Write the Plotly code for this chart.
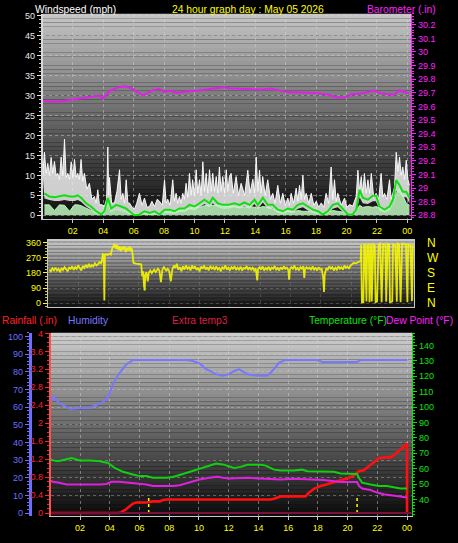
import plotly.graph_objects as go

W, H = 458, 543

# ---------------- data ----------------
hour_ticks = [2, 4, 6, 8, 10, 12, 14, 16, 18, 20, 22, 24]
hour_labels = ['02', '04', '06', '08', '10', '12', '14', '16', '18', '20', '22', '00']

wind_ticks = [0, 5, 10, 15, 20, 25, 30, 35, 40, 45, 50]
baro_ticks = [28.8, 28.9, 29.0, 29.1, 29.2, 29.3, 29.4, 29.5, 29.6, 29.7, 29.8, 29.9, 30.0, 30.1, 30.2]
baro_labels = ['28.8', '28.9', '29', '29.1', '29.2', '29.3', '29.4', '29.5', '29.6', '29.7',
               '29.8', '29.9', '30', '30.1', '30.2']
dir_ticks = [0, 90, 180, 270, 360]
compass_labels = ['N', 'E', 'S', 'W', 'N']
rain_ticks = [0, 0.4, 0.8, 1.2, 1.6, 2.0, 2.4, 2.8, 3.2, 3.6, 4.0]
rain_labels = ['0', '0.4', '0.8', '1.2', '1.6', '2', '2.4', '2.8', '3.2', '3.6', '4']
hum_ticks = [0, 10, 20, 30, 40, 50, 60, 70, 80, 90, 100]
temp_ticks = [40, 50, 60, 70, 80, 90, 100, 110, 120, 130, 140]

# wind: average (green), lower edge of gust band, low speed (pale green)
wind_hours = [0.13, 0.46, 0.79, 1.12, 1.45, 1.78, 2.11, 2.32, 2.54, 2.87, 3.20, 3.53, 3.86, 4.08,
              4.30, 4.52, 4.85, 5.18, 5.50, 5.72, 6.05, 6.38, 6.71, 7.04, 7.37, 7.70, 8.03, 8.36,
              8.68, 9.01, 9.34, 9.67, 10.0, 10.33, 10.66, 10.99, 11.20, 11.53, 11.86, 12.19, 12.63,
              12.96, 13.29, 13.62, 13.95, 14.17, 14.50, 14.82, 15.15, 15.48, 15.81, 16.14, 16.47,
              16.80, 17.13, 17.46, 17.79, 18.11, 18.44, 18.77, 19.10, 19.43, 19.76, 20.09, 20.41,
              20.64, 20.86, 21.07, 21.40, 21.73, 21.95, 22.17, 22.50, 22.83, 23.05, 23.27, 23.49,
              23.70, 23.93, 24.14]
wind_avg = [5.5, 4.7, 4.5, 4.7, 5.0, 4.7, 4.7, 5.0, 4.4, 3.0, 2.2, 1.0, 0.2, 1.0,
            4.3, 1.7, 2.6, 2.2, 1.7, 1.0, 0.0, 0.2, 1.0, 0.6, 1.0, 0.2, 1.4, 1.4,
            1.0, 1.7, 1.7, 2.6, 2.2, 3.0, 3.9, 3.0, 4.4, 3.0, 2.6, 2.6, 3.0,
            2.6, 3.2, 2.6, 3.9, 2.6, 4.4, 2.6, 2.6, 1.4, 1.0, 1.7, 1.4,
            2.6, 3.0, 2.2, 1.4, 1.0, 0.2, 1.0, 2.6, 3.0, 1.7, 0.2, 0.2,
            1.4, 6.4, 4.4, 3.9, 4.9, 4.9, 2.2, 1.4, 2.2, 3.9, 8.8, 7.5,
            5.9, 5.9, 4.4]
wind_floor = [4.2, 3.8, 3.6, 3.6, 3.8, 3.6, 3.6, 3.8, 3.4, 2.2, 1.4, 0.3, 0.0, 0.3,
              2.5, 0.8, 1.5, 1.2, 0.8, 0.3, 0.0, 0.0, 0.3, 0.0, 0.2, 0.0, 0.5, 0.5,
              0.3, 0.8, 0.8, 1.5, 1.2, 2.0, 2.8, 2.0, 3.0, 2.0, 1.6, 1.6, 2.0,
              1.6, 2.2, 1.6, 2.8, 1.6, 3.2, 1.6, 1.6, 0.6, 0.3, 0.8, 0.6,
              1.6, 2.0, 1.2, 0.6, 0.3, 0.0, 0.3, 1.6, 2.0, 0.8, 0.0, 0.0,
              0.5, 4.5, 3.0, 2.8, 3.5, 3.5, 1.2, 0.6, 1.2, 2.8, 6.0, 5.5,
              4.5, 4.5, 3.0]
wind_low = [2.6, 2.6, 1.2, 2.6, 2.5, 1.0, 2.6, 2.6, 2.4, 1.8, 1.0, 0.6, 0.3, 0.5,
            3.5, 0.8, 1.5, 1.2, 0.8, 0.5, 0.3, 0.5, 0.6, 0.5, 0.8, 0.4, 1.0, 1.2,
            0.8, 1.2, 1.5, 1.8, 2.0, 2.0, 2.4, 2.6, 2.5, 2.6, 2.4, 2.2, 2.2,
            2.0, 2.0, 2.2, 2.0, 1.8, 2.2, 2.0, 1.5, 1.0, 1.0, 1.0, 0.8,
            1.2, 1.0, 1.0, 0.8, 0.8, 0.5, 0.8, 1.2, 1.0, 0.8, 0.4, 0.4,
            1.0, 2.5, 2.0, 2.2, 2.0, 2.2, 1.8, 1.5, 2.0, 2.5, 5.5, 6.5,
            5.0, 3.0, 2.5]

gust_hours = [0.02, 0.13, 0.24, 0.35, 0.46, 0.57, 0.68, 0.79, 0.90, 1.01, 1.12, 1.23, 1.34, 1.45,
              1.56, 1.67, 1.78, 1.89, 2.00, 2.11, 2.22, 2.32, 2.43, 2.54, 2.65, 2.76, 2.92, 3.09,
              3.25, 3.42, 3.53, 3.64, 3.75, 3.86, 4.08, 4.22, 4.30, 4.36, 4.41, 4.55, 4.74, 4.90,
              5.07, 5.18, 5.29, 5.40, 5.51, 5.62, 5.72, 5.90, 6.05, 6.20, 6.38, 6.55, 6.71, 6.88,
              7.04, 7.20, 7.37, 7.55, 7.70, 7.88, 8.03, 8.14, 8.24, 8.40, 8.57, 8.68, 8.79, 8.90,
              9.01, 9.12, 9.23, 9.34, 9.45, 9.56, 9.67, 9.78, 9.88, 10.00, 10.11, 10.22, 10.33,
              10.44, 10.55, 10.66, 10.77, 10.88, 10.99, 11.10, 11.20, 11.32, 11.43, 11.54, 11.64,
              11.75, 11.86, 11.98, 12.09, 12.20, 12.30, 12.41, 12.55, 12.74, 12.90, 13.07, 13.30,
              13.51, 13.65, 13.84, 13.95, 14.06, 14.17, 14.28, 14.38, 14.49, 14.65, 14.82, 15.00,
              15.15, 15.30, 15.48, 15.65, 15.81, 15.98, 16.14, 16.25, 16.36, 16.52, 16.69, 16.80,
              16.91, 17.02, 17.13, 17.24, 17.35, 17.52, 17.68, 17.85, 18.01, 18.17, 18.34, 18.50,
              18.66, 18.82, 18.99, 19.10, 19.21, 19.32, 19.43, 19.65, 19.87, 20.03, 20.20, 20.41,
              20.64, 20.75, 20.86, 20.97, 21.07, 21.18, 21.30, 21.41, 21.52, 21.63, 21.79, 21.95,
              22.12, 22.28, 22.39, 22.50, 22.66, 22.83, 22.94, 23.05, 23.16, 23.27, 23.38, 23.49,
              23.60, 23.70, 23.82, 23.93, 24.04, 24.14]
gust_mph = [10, 15.8, 10.5, 13, 10, 14.5, 10.5, 13.5, 10, 10.5, 9, 14.6, 10, 19.1,
            9.5, 10.5, 9, 13.4, 9.5, 14, 9.5, 10.5, 9, 14, 8.5, 10.5, 6.5, 8,
            4, 4.7, 3, 6.4, 2.5, 2.7, 2.3, 4, 17.1, 5, 9.5, 3, 3.1, 6,
            11.4, 4, 5.5, 3, 8.9, 3, 3.1, 2, 1.5, 3, 5.5, 2.5, 4.3, 2,
            2.2, 3.5, 2.2, 4, 3.5, 2.5, 8.9, 3, 4, 2.5, 8.9, 3.5, 5.5, 3,
            4.7, 3, 5.5, 4, 8, 4.5, 10.5, 5, 8.9, 5, 11.4, 5.5, 8.9,
            5, 13.4, 6, 10.5, 5.5, 11.4, 6, 10.5, 6, 9.7, 5.5, 12.1,
            6, 9.7, 5.5, 11.4, 6, 9.7, 10.5, 5.5, 9.7, 5, 8, 5,
            11.3, 5.5, 9, 5.5, 14.6, 6, 11.3, 5.5, 9.7, 5, 8.9, 4,
            5.5, 3, 7.5, 3, 5.5, 2.5, 4.3, 2.5, 5.5, 3, 6.8, 3.5,
            7.5, 4, 10, 4, 5.5, 3, 5.5, 2.5, 3.5, 2, 3.1, 2,
            5.5, 3, 12.1, 4, 8.9, 3.5, 5.5, 2.5, 4.3, 2, 2.7, 2.3,
            4.7, 11.3, 6, 9.7, 5.5, 10.5, 5.5, 8.9, 5.5, 10.5, 4.5, 5.5,
            4, 10.5, 4.5, 5.5, 4, 8.9, 4, 5.5, 7, 15.8, 11, 14.6,
            10, 12.1, 9, 13.8, 9, 7.5]

baro_hours = [0.0, 0.9, 1.56, 2.43, 3.3, 3.75, 3.97, 4.4, 5.07, 5.5, 5.94, 6.6, 7.26, 7.7, 8.0,
              8.36, 8.8, 9.45, 10.3, 11.2, 11.86, 12.3, 14.4, 15.0, 16.1, 17.9, 18.75, 19.4,
              20.07, 20.3, 20.9, 21.8, 22.3, 23.1, 23.5, 24.1]
baro_in = [29.639, 29.632, 29.644, 29.658, 29.676, 29.680, 29.656, 29.712, 29.743, 29.748,
           29.728, 29.680, 29.719, 29.728, 29.705, 29.716, 29.699, 29.709, 29.716, 29.728,
           29.741, 29.734, 29.723, 29.731, 29.705, 29.699, 29.687, 29.663, 29.670, 29.690,
           29.692, 29.716, 29.694, 29.685, 29.719, 29.694]

dir_hours = [0.10, 0.20, 0.30, 0.40, 0.50, 0.60, 0.70, 0.80, 0.90, 1.00, 1.10, 1.20, 1.30, 1.40,
             1.50, 1.60, 1.70, 1.80, 1.90, 2.00, 2.10, 2.20, 2.30, 2.40, 2.50, 2.60, 2.70, 2.80,
             2.90, 3.00, 3.10, 3.20, 3.30, 3.40, 3.50, 3.55, 3.62, 3.68, 3.72, 3.76, 3.85, 3.95,
             4.05, 4.15, 4.25, 4.32, 4.40, 4.48, 4.56, 4.64, 4.72, 4.80, 4.88, 4.96, 5.05, 5.14,
             5.22, 5.30, 5.38, 5.46, 5.52, 5.58, 5.64, 5.80, 6.00, 6.15, 6.22, 6.28, 6.33, 6.38,
             6.42, 6.50, 6.58, 6.65, 6.75, 6.85, 7.00, 7.10, 7.25, 7.35, 7.45, 7.55, 7.65, 7.80,
             7.90, 8.00, 8.10, 8.20, 8.30, 8.40, 8.50, 8.60, 8.70, 8.80, 8.90, 9.00, 9.10, 9.20,
             9.30, 9.40, 9.50, 9.60, 9.70, 9.80, 9.90, 10.00, 10.10, 10.20, 10.30, 10.40, 10.50,
             10.60, 10.70, 10.80, 10.90, 11.00, 11.10, 11.20, 11.30, 11.40, 11.50, 11.60, 11.70,
             11.80, 11.90, 12.00, 12.10, 12.20, 12.30, 12.40, 12.50, 12.60, 12.70, 12.80, 12.90,
             13.00, 13.10, 13.20, 13.30, 13.40, 13.50, 13.60, 13.70, 13.80, 13.85, 13.95, 14.05,
             14.15, 14.25, 14.35, 14.45, 14.55, 14.65, 14.75, 14.85, 14.95, 15.05, 15.15, 15.25,
             15.35, 15.45, 15.55, 15.65, 15.75, 15.85, 15.90, 15.95, 16.05, 16.15, 16.25, 16.35,
             16.45, 16.55, 16.65, 16.75, 16.85, 16.90, 16.95, 17.05, 17.15, 17.25, 17.35, 17.45,
             17.55, 17.65, 17.75, 17.85, 17.95, 18.05, 18.15, 18.20, 18.25, 18.35, 18.45, 18.55,
             18.65, 18.75, 18.85, 18.95, 19.05, 19.15, 19.25, 19.35, 19.45, 19.55, 19.65, 19.75,
             19.85, 19.95, 20.05, 20.15, 20.30, 20.45, 20.55, 20.62, 20.65, 20.70, 20.80, 20.85,
             20.90, 21.00, 21.05, 21.15, 21.20, 21.30, 21.35, 21.45, 21.55, 21.60, 21.70, 21.80,
             21.90, 22.00, 22.10, 22.25, 22.30, 22.40, 22.50, 22.55, 22.70, 22.75, 22.90, 23.00,
             23.05, 23.15, 23.25, 23.35, 23.50, 23.60, 23.70, 23.75, 23.90, 24.00, 24.05]
dir_deg = [200, 190, 208, 196, 212, 195, 205, 185, 210, 198, 215, 200, 190, 212,
           205, 220, 198, 215, 205, 225, 210, 195, 222, 210, 228, 212, 235, 215,
           228, 220, 238, 225, 232, 245, 238, 248, 293, 290, 15, 290, 292, 288,
           295, 290, 330, 345, 352, 325, 348, 318, 340, 310, 335, 320, 340, 305,
           330, 315, 338, 310, 330, 295, 240, 236, 234, 232, 160, 190, 110, 75,
           170, 185, 130, 180, 195, 180, 200, 185, 205, 195, 125, 200, 215, 195,
           205, 190, 130, 200, 225, 210, 235, 200, 215, 190, 220, 200, 225, 205,
           215, 195, 225, 205, 220, 198, 212, 190, 218, 205, 225, 200, 215,
           195, 222, 205, 215, 198, 220, 200, 210, 190, 215, 205, 225,
           200, 212, 195, 215, 205, 220, 198, 212, 200, 218, 195, 210,
           205, 222, 198, 215, 200, 212, 195, 208, 136, 200, 215, 200,
           220, 195, 210, 200, 218, 195, 212, 205, 222, 200, 210, 195,
           215, 200, 220, 205, 212, 198, 140, 200, 215, 205, 225, 200,
           210, 195, 215, 205, 220, 150, 200, 215, 205, 212, 198, 220,
           200, 210, 195, 215, 200, 205, 150, 67, 170, 210, 200, 220,
           205, 215, 195, 212, 200, 220, 205, 215, 200, 225, 210, 218,
           205, 225, 230, 240, 238, 245, 251, 252, 350, 5, 5, 355,
           350, 10, 345, 350, 5, 355, 10, 350, 345, 5, 10, 350,
           355, 5, 352, 348, 8, 355, 350, 5, 10, 350, 345, 8,
           355, 350, 5, 355, 350, 352, 5, 350, 345, 12, 350]

hum_hours = [0.04, 0.19, 0.64, 1.32, 1.99, 2.66, 3.11, 3.55, 3.89, 4.22, 4.67, 5.12, 5.56, 9.15,
             9.59, 10.04, 10.49, 11.16, 11.6, 12.05, 12.37, 12.7, 13.26, 13.93, 14.6, 14.94,
             15.39, 15.83, 17.96, 18.3, 20.64, 20.87, 24.0]
hum_pct = [63, 66, 62, 59, 59.4, 59.4, 61.3, 62.8, 65.6, 73, 79.5, 84.2, 86.6, 86.6,
           86, 84.7, 81.4, 78.6, 77.7, 78.6, 80.4, 81.4, 78.6, 77.7, 77.7, 80.4,
           85.1, 86.6, 86.6, 85.5, 85.5, 86.6, 86.6]

temp_hours = [0.04, 0.19, 0.53, 1.09, 1.43, 1.99, 2.66, 3.33, 3.89, 4.34, 4.89, 5.56, 6.01, 6.46,
              6.91, 7.81, 8.25, 8.81, 9.37, 10.04, 10.71, 11.16, 11.6, 12.05, 12.37, 12.81,
              13.26, 14.15, 14.49, 15.05, 15.5, 16.4, 16.95, 17.29, 18.41, 19.08, 19.52, 20.64,
              20.76, 20.98, 21.54, 22.1, 22.66, 23.11, 23.55, 24.0]
temp_f = [66, 65.4, 64.8, 66.3, 66.9, 65.4, 65.4, 64.8, 63.7, 60.5, 58, 56.2, 55.2, 55.2,
          54.1, 54.1, 54.6, 56.2, 58, 60.1, 62.2, 63.3, 62.8, 61.6, 60.5, 61.2,
          62.6, 62.6, 62.0, 59.4, 58.8, 58.8, 59.4, 58.4, 58, 58, 56.9, 56.6,
          54.1, 50.9, 49.8, 48.8, 48.8, 47.7, 47.1, 47.1]

dew_hours = [0.04, 0.19, 0.53, 1.09, 3.33, 3.78, 4.11, 4.67, 5.12, 5.56, 6.01, 6.46, 6.91, 8.25,
             8.7, 9.37, 10.04, 10.71, 11.27, 11.6, 12.05, 13.26, 14.15, 15.05, 15.5, 16.4,
             17.51, 18.41, 19.52, 20.64, 20.76, 20.98, 21.54, 21.98, 22.43, 23.11, 24.0]
dew_f = [52, 51.5, 51, 49.8, 49.8, 50.1, 51.5, 51.5, 51, 50.6, 49.8, 49.8, 48.8, 48.8,
         49.3, 51, 53, 54.1, 54.7, 54.1, 53.7, 54.1, 53.7, 53.5, 53, 53.5,
         53, 52.6, 51.3, 51.3, 48.8, 47.1, 46.2, 44.5, 43.4, 42.4, 41.3]

rain_hours = [0.04, 4.6, 4.79, 5.12, 5.56, 5.79, 6.46, 6.91, 7.36, 7.58, 7.81, 14.8, 15.05, 15.28,
              15.5, 17.17, 17.4, 17.74, 18.18, 18.63, 19.08, 19.52, 19.97, 20.42, 20.76, 21.09,
              21.43, 21.76, 22.1, 22.54, 22.87, 23.21, 23.55, 23.89, 24.0, 24.0]
rain_in = [0, 0, 0.02, 0.09, 0.21, 0.235, 0.235, 0.26, 0.26, 0.29, 0.3, 0.3, 0.32, 0.345,
           0.37, 0.37, 0.455, 0.54, 0.6, 0.64, 0.69, 0.73, 0.77, 0.835, 0.93, 0.95,
           1.04, 1.135, 1.22, 1.24, 1.24, 1.31, 1.41, 1.53, 1.55, 0]

extra_hours = [0.04, 24.3]
extra_temp3 = [31.2, 31.2]

sun_hours = [6.62, 20.64]
sun_marker_top = 0.35

# ---------------- layout helpers ----------------
FONT = 'Liberation Sans'


def px_x(x):
    return x / W


def px_y(y):
    return 1 - y / H


def gradient(x0, x1, y0, y1, top, bot, n=48):
    shapes = []
    for i in range(n):
        t = i / (n - 1)
        c = int(round(top + (bot - top) * t))
        ya = y0 + (y1 - y0) * i / n
        yb = y0 + (y1 - y0) * (i + 1) / n
        shapes.append(dict(type='rect', xref='paper', yref='paper', layer='below',
                           x0=px_x(x0), x1=px_x(x1), y0=px_y(yb), y1=px_y(ya),
                           line=dict(width=0), fillcolor=f'rgb({c},{c},{c})'))
    return shapes


# panel geometry (pixels)
TOP = (43, 412, 10, 218)
MID = (48, 415, 239, 307)
BOT = (51, 413, 333, 519)

shapes = gradient(*TOP, 196, 14) + gradient(*MID, 200, 22) + gradient(*BOT, 205, 12)

fig = go.Figure()

# ---- top panel: wind + barometer ----
fig.add_trace(go.Scatter(x=wind_hours, y=wind_floor, mode='lines', line=dict(width=0),
                         xaxis='x', yaxis='y', hoverinfo='skip', showlegend=False))
fig.add_trace(go.Scatter(x=gust_hours, y=gust_mph, mode='lines', fill='tonexty',
                         fillcolor='rgba(235,235,235,0.86)',
                         line=dict(color='rgba(252,252,252,0.95)', width=1),
                         xaxis='x', yaxis='y', showlegend=False))
fig.add_trace(go.Scatter(x=wind_hours, y=wind_low, mode='lines', fill='tozeroy',
                         fillcolor='rgba(185,240,185,0.88)',
                         line=dict(color='rgba(200,250,200,0.9)', width=1),
                         xaxis='x', yaxis='y', showlegend=False))
fig.add_trace(go.Scatter(x=wind_hours, y=wind_avg, mode='lines',
                         line=dict(color='#10e010', width=2),
                         xaxis='x', yaxis='y', showlegend=False))
fig.add_trace(go.Scatter(x=baro_hours, y=baro_in, mode='lines',
                         line=dict(color='#e020e8', width=2),
                         xaxis='x', yaxis='y2', showlegend=False))

# ---- middle panel: wind direction ----
fig.add_trace(go.Scatter(x=dir_hours, y=dir_deg, mode='lines',
                         line=dict(color='rgba(245,245,0,0.9)', width=1.8),
                         xaxis='x2', yaxis='y3', showlegend=False))
fig.add_trace(go.Scatter(x=[dir_hours[0]], y=[dir_deg[0]], mode='lines', opacity=0,
                         xaxis='x2', yaxis='y4', showlegend=False, hoverinfo='skip'))

# ---- bottom panel ----
fig.add_trace(go.Scatter(x=rain_hours, y=rain_in, mode='lines',
                         line=dict(color='#ff1010', width=2.6),
                         xaxis='x3', yaxis='y5', showlegend=False))
for h in sun_hours:
    fig.add_trace(go.Scatter(x=[h, h], y=[0, sun_marker_top], mode='lines',
                             line=dict(color='#ffff00', width=1.5, dash='dot'),
                             xaxis='x3', yaxis='y5', showlegend=False))
fig.add_trace(go.Scatter(x=hum_hours, y=hum_pct, mode='lines',
                         line=dict(color='#7878ff', width=2),
                         xaxis='x3', yaxis='y6', showlegend=False))
fig.add_trace(go.Scatter(x=extra_hours, y=extra_temp3, mode='lines',
                         line=dict(color='#7a1038', width=2),
                         xaxis='x3', yaxis='y7', showlegend=False))
fig.add_trace(go.Scatter(x=temp_hours, y=temp_f, mode='lines',
                         line=dict(color='#10d010', width=2),
                         xaxis='x3', yaxis='y7', showlegend=False))
fig.add_trace(go.Scatter(x=dew_hours, y=dew_f, mode='lines',
                         line=dict(color='#e020e0', width=2),
                         xaxis='x3', yaxis='y7', showlegend=False))

grid_col = 'rgba(215,215,215,0.45)'
tickfont = dict(family=FONT, size=9)

layout = dict(
    width=W, height=H, margin=dict(l=0, r=0, t=0, b=0),
    paper_bgcolor='black', plot_bgcolor='rgba(0,0,0,0)',
    showlegend=False, hovermode=False, shapes=shapes,
    font=dict(family=FONT),
    xaxis=dict(domain=[px_x(TOP[0]), px_x(TOP[1])], range=[0.03, 24.25], anchor='y',
               tickvals=hour_ticks, ticktext=hour_labels, tickfont=dict(tickfont, color='#ffff00'),
               ticks='outside', ticklen=3, tickcolor='#c8c8c8',
               showgrid=True, gridcolor=grid_col, griddash='dot', gridwidth=1,
               showline=True, linecolor='#c8c8c8', linewidth=1, zeroline=False),
    yaxis=dict(domain=[px_y(TOP[3]), px_y(TOP[2])], range=[-0.99, 50.5], anchor='x',
               tickvals=wind_ticks, tickfont=dict(tickfont, color='#e8e8e8'),
               ticks='outside', ticklen=4, tickcolor='#e8e8e8',
               minor=dict(dtick=1, ticklen=2, tickcolor='#c8c8c8', ticks='outside', showgrid=False),
               showgrid=True, gridcolor=grid_col, griddash='dot',
               showline=True, linecolor='#d8d8d8', linewidth=2, zeroline=False),
    yaxis2=dict(overlaying='y', side='right', anchor='x', range=[28.771, 30.280],
                tickvals=baro_ticks, ticktext=baro_labels, tickfont=dict(tickfont, color='#ff20ff'),
                ticks='outside', ticklen=4, tickcolor='#ff20ff',
                minor=dict(dtick=0.02, ticklen=2, tickcolor='#ff20ff', ticks='outside', showgrid=False),
                showgrid=False, showline=True, linecolor='#ff20ff', linewidth=1, zeroline=False),
    xaxis2=dict(domain=[px_x(MID[0]), px_x(MID[1])], range=[0, 24.14], anchor='y3',
                showticklabels=False, ticks='', showgrid=True, gridcolor='rgba(200,200,200,0.2)',
                griddash='dot', tickvals=hour_ticks,
                showline=True, linecolor='#c8c8c8', mirror=True, zeroline=False),
    yaxis3=dict(domain=[px_y(MID[3]), px_y(MID[2])], range=[-23.6, 377.8], anchor='x2',
                tickvals=dir_ticks, tickfont=dict(tickfont, color='#ffff00'),
                ticks='outside', ticklen=4, tickcolor='#ffff00',
                minor=dict(dtick=18, ticklen=2, tickcolor='#d0d000', ticks='outside', showgrid=False),
                showgrid=True, gridcolor='rgba(200,200,200,0.25)', griddash='dot',
                showline=True, linecolor='#c8c8c8', mirror=True, zeroline=False),
    yaxis4=dict(overlaying='y3', side='right', anchor='free', position=px_x(427),
                range=[-23.6, 377.8], tickvals=dir_ticks, ticktext=compass_labels,
                tickfont=dict(family=FONT, size=12, color='#ffff00'), ticks='',
                showgrid=False, showline=False, zeroline=False),
    xaxis3=dict(domain=[px_x(BOT[0]), px_x(BOT[1])], range=[0.04, 24.34], anchor='y5',
                tickvals=hour_ticks, ticktext=hour_labels, tickfont=dict(tickfont, color='#ffff00'),
                ticks='outside', ticklen=3, tickcolor='#c8c8c8',
                showgrid=True, gridcolor=grid_col, griddash='dot',
                showline=True, linecolor='#c8c8c8', zeroline=False),
    yaxis5=dict(domain=[px_y(BOT[3]), px_y(BOT[2])], range=[-0.073, 4.015], anchor='x3',
                tickvals=rain_ticks, ticktext=rain_labels, tickfont=dict(tickfont, color='#ff2020'),
                ticks='outside', ticklen=4, tickcolor='#ff2020',
                minor=dict(dtick=0.1, ticklen=2, tickcolor='#ff2020', ticks='outside', showgrid=False),
                showgrid=False, showline=True, linecolor='#ff5050', linewidth=2, zeroline=False),
    yaxis6=dict(overlaying='y5', side='left', anchor='free', position=px_x(30),
                range=[-1.84, 102.07], tickvals=hum_ticks, tickfont=dict(tickfont, color='#6e6eff'),
                ticks='outside', ticklen=4, tickcolor='#6e6eff',
                minor=dict(dtick=2, ticklen=2, tickcolor='#6e6eff', ticks='outside', showgrid=False),
                showgrid=True, gridcolor='rgba(215,215,215,0.35)', griddash='dot',
                showline=True, linecolor='#6e6eff', linewidth=3, zeroline=False),
    yaxis7=dict(overlaying='y5', side='right', anchor='x3', range=[29.1, 148.3],
                tickvals=temp_ticks, tickfont=dict(tickfont, color='#10e010'),
                ticks='outside', ticklen=4, tickcolor='#10e010',
                minor=dict(dtick=2, ticklen=2, tickcolor='#10e010', ticks='outside', showgrid=False),
                showgrid=False, showline=True, linecolor='#10e010', linewidth=1, zeroline=False),
)

titles = [
    ('Windspeed (mph)', 33, 6, '#ffffff'),
    ('24 hour graph day : May 05 2026', 170, 6, '#ffff00'),
    ('Barometer (.in)', 366, 6, '#ff20ff'),
    ('Rainfall (.in)', 0, 321, '#ff2020'),
    ('Humidity', 66, 321, '#7878ff'),
    ('Extra temp3', 170, 321, '#dc1e46'),
    ('Temperature (°F)', 308, 321, '#10e010'),
    ('Dew Point (°F)', 385, 321, '#ff20ff'),
]
layout['annotations'] = [
    dict(text=t, x=px_x(x), y=px_y(y), xref='paper', yref='paper', xanchor='left',
         yanchor='middle', showarrow=False, font=dict(family=FONT, size=10.3, color=c))
    for t, x, y, c in titles
]

fig.update_layout(**layout)
fig.write_html('out.html', config={'displayModeBar': False},
               post_script="document.body.style.margin='0';document.body.style.background='black';")
